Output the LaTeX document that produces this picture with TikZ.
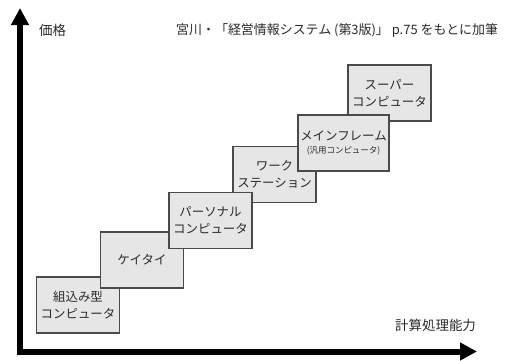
\documentclass[tikz,border=0pt]{standalone}
\usepackage{fontspec}
\setmainfont{Noto Sans CJK JP}
\usetikzlibrary{arrows.meta}
\definecolor{boxline}{HTML}{4A4A4A}
\definecolor{boxfill}{HTML}{E6E6E6}
\definecolor{txt}{HTML}{2A2A2A}
\begin{document}
\begin{tikzpicture}[x=1bp,y=-1bp,
  box/.style={draw=boxline, fill=boxfill, line width=1.3bp, minimum width=83bp, minimum height=56bp,
    inner sep=0pt, align=center, font=\fontsize{12.5}{17}\selectfont, text=txt},
  lbl/.style={font=\fontsize{13.5}{15}\selectfont, text=txt, inner sep=0pt},
  axisline/.style={line width=6bp, line join=miter,
    {Triangle[length=17bp,width=17bp]}-{Triangle[length=17bp,width=17bp]}}]
\useasboundingbox (0,0) rectangle (508,360);
% axes
\coordinate (ytip) at (20,8);
\coordinate (xtip) at (477,351.5);
\draw[axisline] (ytip) |- (xtip);
% labels
\node[lbl, anchor=west] (price) at (39,30) {価格};
\node[lbl, anchor=west, font=\fontsize{13}{15}\selectfont] (title) at (176,30) {宮川・「経営情報システム (第3版)」 p.75 をもとに加筆};
\node[lbl, anchor=west] (perf) at (395,325) {計算処理能力};
% boxes (draw order gives overlap)
\node[box] (emb) at (78,305) {組込み型\\コンピュータ};
\node[box] (mob) at (142,260) {ケイタイ};
\node[box] (ws) at (274.5,174.5) {ワーク\\ステーション};
\node[box] (sup) at (389.5,93) {スーパー\\コンピュータ};
\node[box, minimum width=91bp] (main) at (343.5,143) {メインフレーム\\[-4bp]{\fontsize{8.5}{10}\selectfont (汎用コンピュータ)}};
\node[box] (pc) at (210.5,220.5) {パーソナル\\コンピュータ};
\end{tikzpicture}
\end{document}
